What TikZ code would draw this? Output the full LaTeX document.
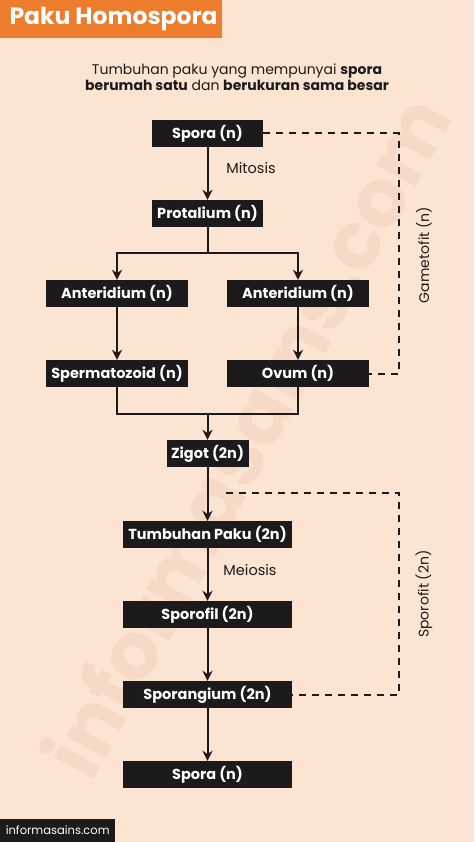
\documentclass[tikz,border=0pt]{standalone}
\usepackage{fontspec}
\setmainfont{Poppins}
\usetikzlibrary{arrows.meta,positioning}

\definecolor{bgpeach}{HTML}{FCE4D3}
\definecolor{titleorange}{HTML}{EE7C2D}
\definecolor{boxblack}{HTML}{1C1A1A}
\definecolor{markpeach}{HTML}{F6DAC7}

\begin{document}
\begin{tikzpicture}[
        x=1pt,
        y=-1pt,
        font=\fontsize{12}{14}\selectfont,
        stage/.style={fill=boxblack, text=white, inner sep=0pt, minimum height=27pt,
            font=\fontsize{14.5}{16}\selectfont\bfseries},
        flow/.style={draw=boxblack, line width=2pt, -{Stealth[length=10pt, width=10pt]}},
        link/.style={draw=boxblack, line width=2pt},
        phase/.style={draw=boxblack, line width=2pt, dash pattern=on 7pt off 6pt},
        steplabel/.style={text=boxblack, font=\fontsize{14.5}{16}\selectfont},
        phaselabel/.style={text=boxblack, rotate=90, font=\fontsize{14}{16}\selectfont}
    ]
        % background, watermark and title band
        \fill[bgpeach] (0,0) rectangle (474,842);
        \node[text=markpeach, rotate=61.5, font=\fontsize{80}{86}\selectfont\bfseries]
            (mark) at (245,435) {informasains.com};
        \fill[titleorange] (0,0) rectangle (222,38);
        \node[anchor=west, text=white, font=\fontsize{23.5}{26}\selectfont\bfseries]
            (title) at (6,19) {Paku Homospora};
        \node[align=center, text=boxblack, font=\fontsize{14}{16}\selectfont]
            (intro) at (237,77) {Tumbuhan paku yang mempunyai \textbf{spora}\\
            \textbf{berumah satu} dan \textbf{berukuran sama besar}};

        % life cycle stages
        \node[stage, minimum width=111pt] (spora) at (207.5,133.5) {Spora (n)};
        \node[stage, minimum width=111pt] (protalium) at (207.5,213.5) {Protalium (n)};
        \node[stage, minimum width=142pt] (anterL) at (117,293.5) {Anteridium (n)};
        \node[stage, minimum width=142pt] (anterR) at (298,293.5) {Anteridium (n)};
        \node[stage, minimum width=142pt] (sperma) at (117,373.5) {Spermatozoid (n)};
        \node[stage, minimum width=142pt] (ovum) at (298,373.5) {Ovum (n)};
        \node[stage, minimum width=82pt] (zigot) at (207.5,453.5) {Zigot (2n)};
        \node[stage, minimum width=169pt] (tumbuhan) at (207.5,534.5) {Tumbuhan Paku (2n)};
        \node[stage, minimum width=169pt] (sporofil) at (207.5,614.5) {Sporofil (2n)};
        \node[stage, minimum width=169pt] (sporangium) at (207.5,694.5) {Sporangium (2n)};
        \node[stage, minimum width=169pt] (sporaB) at (207.5,774.5) {Spora (n)};

        \coordinate (split) at (207.5,253);
        \coordinate (merge) at (207.5,414);
        \coordinate (gametTop) at (399,133.5);
        \coordinate (sporoStart) at (226,493);
        \coordinate (sporoTop) at (399,493);

        % arrows
        \draw[flow] (spora) -- (protalium);
        \draw[link] (protalium.south) -- (split);
        \draw[flow] (split) -| (anterL);
        \draw[flow] (split) -| (anterR);
        \draw[flow] (anterL) -- (sperma);
        \draw[flow] (anterR) -- (ovum);
        \draw[link] (sperma.south) |- (merge) -| (ovum.south);
        \draw[flow] (merge) -- (zigot);
        \draw[flow] (zigot) -- (tumbuhan);
        \draw[flow] (tumbuhan) -- (sporofil);
        \draw[flow] (sporofil) -- (sporangium);
        \draw[flow] (sporangium) -- (sporaB);

        \node[steplabel] (mitosis) at (251,168) {Mitosis};
        \node[steplabel] (meiosis) at (250,570) {Meiosis};

        % generations
        \draw[phase] (spora.east) -- (gametTop) |- (ovum.east);
        \draw[phase] (sporoStart) -- (sporoTop) |- (sporangium.east);
        \node[phaselabel] (gametofit) at (424,255) {Gametofit (n)};
        \node[phaselabel] (sporofit) at (424,594) {Sporofit (2n)};

        % footer
        \node[anchor=south west, fill=boxblack, text=white, minimum width=115pt, minimum height=23pt,
            inner sep=0pt, font=\fontsize{11.5}{13}\selectfont] (site) at (0,842) {informasains.com};
        \useasboundingbox (0,0) rectangle (474,842);
\end{tikzpicture}
\end{document}
